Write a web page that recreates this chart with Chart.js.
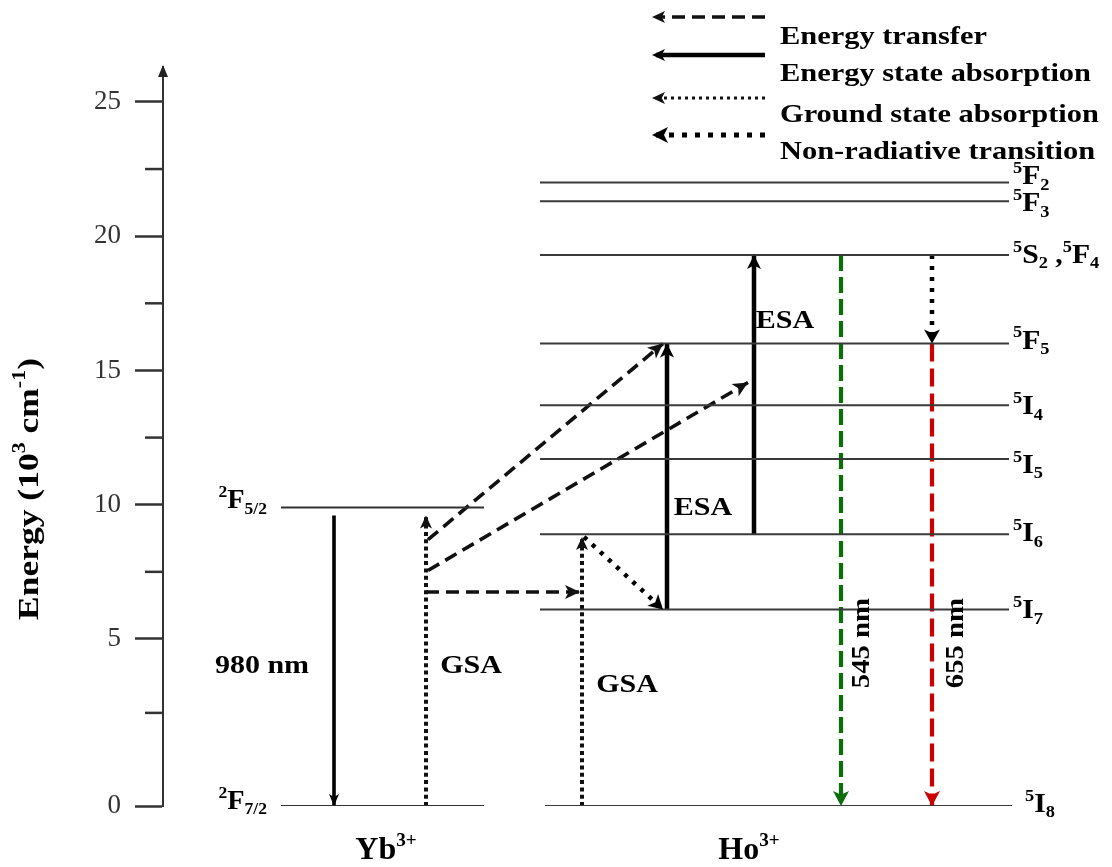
<!DOCTYPE html>
<html><head><meta charset="utf-8">
<script src="https://cdn.jsdelivr.net/npm/chart.js@4.4.1/dist/chart.umd.min.js"></script>
<style>html,body{margin:0;padding:0;background:#fff}canvas{display:block}</style>
</head><body>
<canvas id="c" width="1112" height="867"></canvas>
<script>
// ---------------- DATA ----------------
const yTickValues = [0, 2.5, 5, 7.5, 10, 12.5, 15, 17.5, 20, 22.5, 25];
const yTickLabels = ['0', '', '5', '', '10', '', '15', '', '20', '', '25'];
const axisTitle = 'Energy (10^{3} cm^{-1})';

const ionLabels = ['Yb^{3+}', 'Ho^{3+}'];
const ionCenters = [223, 586];

const ybLevels = ['^{2}F_{7/2}', '^{2}F_{5/2}'];
const ybEnergies = [0, 9.9];
const ybSpan = [118, 321];

const hoLevels = ['^{5}I_{8}', '^{5}I_{7}', '^{5}I_{6}', '^{5}I_{5}', '^{5}I_{4}', '^{5}F_{5}', '^{5}S_{2} ,^{5}F_{4}', '^{5}F_{3}', '^{5}F_{2}'];
const hoEnergies = [0, 6.1, 8.9, 11.7, 13.7, 16.0, 19.3, 21.3, 22.0];
const hoSpan = [377, 846];

const transNames = ['980 nm', 'GSA Yb', 'ET 1', 'ET 2', 'ET 3', 'GSA Ho', 'NR 1', 'ESA 1', 'ESA 2', '545 nm', 'NR 2', '655 nm'];
const transKinds = ['pump', 'gsa', 'et', 'et', 'et', 'gsa', 'nr', 'esa', 'esa', 'green', 'nr', 'red'];
const transX0 = [171, 263, 263, 265, 265, 419, 421, 504, 591, 678, 769, 769];
const transE0 = [9.6, 0, 6.75, 8.7, 7.55, 0, 8.8, 6.1, 8.9, 19.3, 19.3, 16.0];
const transX1 = [171, 263, 417, 500, 585, 419, 500, 504, 591, 678, 769, 769];
const transE1 = [0, 9.6, 6.75, 16.0, 14.55, 8.8, 6.1, 16.0, 19.3, 0, 16.0, 0];

const annoTexts = ['980 nm', 'GSA', 'GSA', 'ESA', 'ESA', '545 nm', '655 nm'];
const annoX = [99, 308, 464, 540, 622, 698, 792];
const annoE = [4.12, 4.12, 3.48, 9.92, 16.88, 4.86, 4.86];
const annoVertical = [false, false, false, false, false, true, true];

const legendKinds = ['et', 'esa', 'gsaThin', 'nrBig'];
const legendTexts = ['Energy transfer', 'Energy state absorption', 'Ground state absorption', 'Non-radiative transition'];

// ---------------- LAYOUT / STYLE ----------------
const FAMILY = '"Liberation Serif", "Times New Roman", Times, serif';
const axisBreakValues = [0, 2.5, 5, 26.3];
const axisBreakFractions = [0, 0.126, 0.226, 1];
const styles = {
  pump:   {color: '#000', width: 3.6, dash: [], head: [12, 5]},
  esa:    {color: '#000', width: 4.5, dash: [], head: [14, 7]},
  et:     {color: '#111', width: 3.6, dash: [13, 7], head: [15, 7]},
  gsa:    {color: '#111', width: 4, dash: [4, 3.3], head: [13, 6]},
  gsaThin:{color: '#111', width: 2.8, dash: [3, 4], head: [12, 6]},
  nr:     {color: '#000', width: 4.5, dash: [4, 7], head: [14, 8]},
  nrBig:  {color: '#000', width: 5, dash: [5, 8], head: [16, 8]},
  green:  {color: '#0b6e0b', width: 4.2, dash: [16, 6], head: [15, 8]},
  red:    {color: '#cc0000', width: 4.2, dash: [18, 7], head: [15, 8]}
};
const hoLabelDx = [13, 4, 4, 4, 4, 4, 4, 4, 4];
const hoLabelDy = [-3, 0, -2, 5, 0, -4, -1, 1, -7];
const ybLabelDy = [-6, -8];

// ---------------- helpers ----------------
function parseRich(s) {
  const out = []; let i = 0;
  const isMark = j => (s[j] === '^' || s[j] === '_') && s[j + 1] === '{';
  while (i < s.length) {
    if (isMark(i)) {
      const j = s.indexOf('}', i);
      out.push({t: s.slice(i + 2, j), k: s[i] === '^' ? 'sup' : 'sub'});
      i = j + 1;
    } else {
      let j = i; while (j < s.length && !isMark(j)) j++;
      out.push({t: s.slice(i, j), k: 'n'}); i = j;
    }
  }
  return out;
}
function drawRich(ctx, s, x, y, o) {
  const segs = parseRich(s);
  const wt = o.bold === false ? '' : 'bold ';
  const small = o.size * (o.smallScale || 0.62);
  const fontOf = sg => wt + (sg.k === 'n' ? o.size : small) + 'px ' + FAMILY;
  const widths = segs.map(sg => { ctx.font = fontOf(sg); return ctx.measureText(sg.t).width; });
  const total = widths.reduce((a, b) => a + b, 0);
  let sx = o.stretch || 1;
  if (o.fitWidth) sx = o.fitWidth / total;
  ctx.save();
  ctx.translate(x, y);
  if (o.rot) ctx.rotate(o.rot);
  ctx.scale(sx, 1);
  let cx = o.align === 'center' ? -total / 2 : o.align === 'right' ? -total : 0;
  ctx.fillStyle = o.color || '#000';
  ctx.textBaseline = 'alphabetic'; ctx.textAlign = 'left';
  segs.forEach((sg, i) => {
    ctx.font = fontOf(sg);
    const dy = sg.k === 'sup' ? -o.size * 0.42 : sg.k === 'sub' ? o.size * 0.2 : 0;
    ctx.fillText(sg.t, cx, dy);
    cx += widths[i];
  });
  ctx.restore();
}
function arrowHead(ctx, x0, y0, x1, y1, len, half, color) {
  const a = Math.atan2(y1 - y0, x1 - x0);
  ctx.save();
  ctx.fillStyle = color;
  ctx.translate(x1, y1); ctx.rotate(a);
  ctx.beginPath(); ctx.moveTo(0, 0); ctx.lineTo(-len, -half); ctx.lineTo(-len * 0.75, 0); ctx.lineTo(-len, half); ctx.closePath();
  ctx.fill();
  ctx.restore();
}

// ---------------- warped linear scale ----------------
class WarpScale extends Chart.LinearScale {
  _frac(v) {
    const s = axisBreakValues, f = axisBreakFractions; let i = 0;
    while (i < s.length - 2 && v > s[i + 1]) i++;
    return f[i] + (v - s[i]) * (f[i + 1] - f[i]) / (s[i + 1] - s[i]);
  }
  getPixelForValue(v) {
    if (v === null || v === undefined || isNaN(v)) return NaN;
    return this.getPixelForDecimal(this._frac(v));
  }
  getValueForPixel(p) {
    const d = this.getDecimalForPixel(p);
    const s = axisBreakValues, f = axisBreakFractions; let i = 0;
    while (i < f.length - 2 && d > f[i + 1]) i++;
    return s[i] + (d - f[i]) * (s[i + 1] - s[i]) / (f[i + 1] - f[i]);
  }
}
WarpScale.id = 'warp';
WarpScale.defaults = Chart.LinearScale.defaults;
Chart.register(WarpScale);

// ---------------- datasets ----------------
const datasets = [];
ybEnergies.forEach((e, i) => datasets.push({
  label: ybLevels[i], role: 'ybLevel', idx: i,
  data: [{x: ybSpan[0], y: e}, {x: ybSpan[1], y: e}],
  showLine: true, borderColor: '#333', borderWidth: 2, pointRadius: 0
}));
hoEnergies.forEach((e, i) => datasets.push({
  label: hoLevels[i], role: 'hoLevel', idx: i,
  data: [{x: hoSpan[0] + (i === 0 ? 5 : 0), y: e}, {x: hoSpan[1] + (i === 0 ? 3 : 0), y: e}],
  showLine: true, borderColor: '#3a3a3a', borderWidth: 2, pointRadius: 0
}));
transNames.forEach((n, i) => {
  const st = styles[transKinds[i]];
  datasets.push({
    label: n, role: 'arrow', kind: transKinds[i],
    data: [{x: transX0[i], y: transE0[i]}, {x: transX1[i], y: transE1[i]}],
    showLine: true, borderColor: st.color, borderWidth: st.width, borderDash: st.dash,
    borderCapStyle: 'butt', pointRadius: 0
  });
});

// ---------------- plugin ----------------
const diagramPlugin = {
  id: 'diagram',
  afterDraw(chart) {
    const ctx = chart.ctx, xs = chart.scales.x, ys = chart.scales.y, ca = chart.chartArea;
    // minor ticks
    ctx.save();
    ctx.strokeStyle = '#333'; ctx.lineWidth = 2.5;
    yTickValues.forEach((v, i) => {
      if (yTickLabels[i] === '') {
        const py = ys.getPixelForValue(v);
        ctx.beginPath(); ctx.moveTo(ca.left - 18, py); ctx.lineTo(ca.left, py); ctx.stroke();
      }
    });
    // axis arrow head
    ctx.fillStyle = '#222';
    ctx.beginPath(); ctx.moveTo(ca.left, ca.top - 2); ctx.lineTo(ca.left - 5, ca.top + 10); ctx.lineTo(ca.left + 5, ca.top + 10); ctx.closePath(); ctx.fill();
    ctx.restore();

    // axis title
    drawRich(ctx, axisTitle, 28 + 10, 489, {size: 30, align: 'center', rot: -Math.PI / 2, fitWidth: 262});

    // arrowheads
    chart.data.datasets.forEach((ds, i) => {
      if (ds.role !== 'arrow') return;
      const m = chart.getDatasetMeta(i);
      const p0 = m.data[0], p1 = m.data[1];
      const st = styles[ds.kind];
      arrowHead(ctx, p0.x, p0.y, p1.x, p1.y, st.head[0], st.head[1], st.color);
    });

    // level labels
    chart.data.datasets.forEach((ds, i) => {
      const m = chart.getDatasetMeta(i);
      if (ds.role === 'hoLevel') {
        const p = m.data[1];
        drawRich(ctx, ds.label, p.x + hoLabelDx[ds.idx], p.y + 9 + hoLabelDy[ds.idx], {size: 27, stretch: 1.1});
      } else if (ds.role === 'ybLevel') {
        const p = m.data[0];
        drawRich(ctx, ds.label, p.x - 14, p.y + 9 + ybLabelDy[ds.idx], {size: 27, align: 'right', stretch: 1.05});
      }
    });

    // annotations
    annoTexts.forEach((t, i) => {
      const px = xs.getPixelForValue(annoX[i]), py = ys.getPixelForValue(annoE[i]);
      if (annoVertical[i]) drawRich(ctx, t, px + 8, py, {size: 25, align: 'center', rot: -Math.PI / 2, stretch: 1.15});
      else drawRich(ctx, t, px, py + 8.5, {size: 25, align: 'center', stretch: 1.2});
    });

    // ion labels
    ionLabels.forEach((t, i) => {
      drawRich(ctx, t, xs.getPixelForValue(ionCenters[i]), ca.bottom + 53, {size: 32, align: 'center', smallScale: 0.6});
    });

    // legend
    const rowsY = [17, 55, 98, 135], textY = [35, 72, 113, 150];
    legendKinds.forEach((k, i) => {
      const st = styles[k];
      ctx.save();
      ctx.strokeStyle = st.color; ctx.lineWidth = st.width; ctx.setLineDash(st.dash); ctx.lineCap = 'butt';
      ctx.beginPath(); ctx.moveTo(765, rowsY[i]); ctx.lineTo(656, rowsY[i]); ctx.stroke();
      ctx.restore();
      arrowHead(ctx, 765, rowsY[i], 652, rowsY[i], k === 'nrBig' ? 16 : 13, k === 'nrBig' ? 8 : 6, st.color);
      drawRich(ctx, legendTexts[i], 780, textY[i] + 8.5, {size: 26, stretch: 1.17});
    });
  }
};

new Chart(document.getElementById('c'), {
  type: 'scatter',
  data: {datasets},
  options: {
    responsive: false, animation: false, events: [],
    layout: {padding: {top: 67, right: 99, bottom: 61, left: 0}},
    plugins: {legend: {display: false}, tooltip: {enabled: false}},
    elements: {line: {tension: 0}},
    scales: {
      x: {type: 'linear', min: 0, max: 850, display: false},
      y: {
        type: 'warp', position: 'left', min: 0, max: 26.3,
        afterBuildTicks: s => { s.ticks = yTickValues.map(v => ({value: v})); },
        afterFit: s => { s.width = 163; },
        border: {display: true, color: '#333', width: 2},
        grid: {display: true, drawOnChartArea: false, drawTicks: true, tickLength: 28, tickWidth: 2.5,
               tickColor: c => (yTickLabels[c.index] === '' ? 'rgba(0,0,0,0)' : '#333')},
        ticks: {
          autoSkip: false, padding: 14, color: '#333',
          font: {family: FAMILY, size: 27},
          callback: (v, i) => yTickLabels[i]
        }
      }
    }
  },
  plugins: [diagramPlugin]
});
</script>
</body></html>
